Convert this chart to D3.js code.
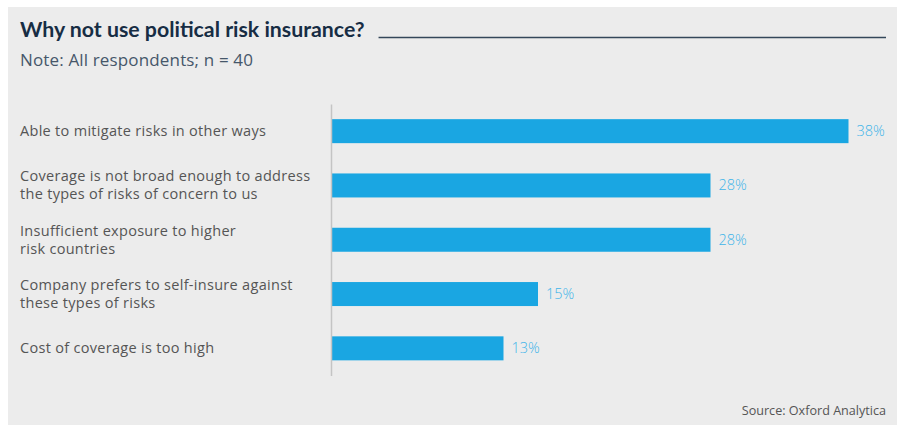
<!DOCTYPE html>
<html>
<head>
<meta charset="utf-8">
<script src="https://cdn.jsdelivr.net/npm/d3@7"></script>
<style>
  html, body { margin: 0; padding: 0; background: #ffffff; }
  svg { display: block; font-family: "Open Sans", "Noto Sans", sans-serif; }
</style>
</head>
<body>
<svg id="chart" width="904" height="425"></svg>
<script>
// Survey question and respondent count
const title = "Why not use political risk insurance?";
const note = "Note: All respondents; n = 40";
const source = "Source: Oxford Analytica";
const respondents = 40;

// Answer categories (each entry is a list of label lines)
const categories = [
  ["Able to mitigate risks in other ways"],
  ["Coverage is not broad enough to address", "the types of risks of concern to us"],
  ["Insufficient exposure to higher", "risk countries"],
  ["Company prefers to self-insure against", "these types of risks"],
  ["Cost of coverage is too high"]
];

// Number of respondents choosing each answer
const counts = [15, 11, 11, 6, 5];

// Share of respondents, in percent
const shares = counts.map(c => c / respondents * 100);
const fmt = v => Math.round(v) + "%";

const svg = d3.select("#chart");

// Panel background
svg.append("rect")
  .attr("x", 8).attr("y", 7)
  .attr("width", 889).attr("height", 418)
  .attr("fill", "#ececec");

// Heading
const titleText = svg.append("text")
  .attr("x", 20).attr("y", 37)
  .attr("font-family", "Lato, 'Open Sans', sans-serif")
  .attr("font-size", 21.3)
  .attr("font-weight", 700)
  .attr("fill", "#172d44")
  .text(title);

const tw = titleText.node().getComputedTextLength();
svg.append("line")
  .attr("x1", 20 + tw + 14).attr("x2", 886)
  .attr("y1", 37.5).attr("y2", 37.5)
  .attr("stroke", "#34475a")
  .attr("stroke-width", 1.5);

svg.append("text")
  .attr("x", 20).attr("y", 66)
  .attr("font-size", 17)
  .attr("letter-spacing", 0.15)
  .attr("fill", "#46576a")
  .text(note);

// Scales
const x = d3.scaleLinear().domain([0, 40]).range([331, 883]);
const y = d3.scaleBand()
  .domain(d3.range(categories.length))
  .range([104, 375.5])
  .paddingInner(0.558)
  .paddingOuter(0.279);

// Bars
svg.append("g").selectAll("rect")
  .data(shares)
  .join("rect")
  .attr("x", x(0))
  .attr("y", (d, i) => y(i))
  .attr("width", d => x(d) - x(0))
  .attr("height", y.bandwidth())
  .attr("fill", "#1aa6e2");

// Value labels
svg.append("g").selectAll("text")
  .data(shares)
  .join("text")
  .attr("x", d => x(d) + 8)
  .attr("y", (d, i) => y(i) + y.bandwidth() / 2 + 5)
  .attr("font-size", 14.5)
  .attr("font-weight", 300)
  .attr("fill", "#3fb4e9")
  .text(d => fmt(d));

// Category axis line
const yAxis = d3.axisLeft(y).tickSize(0).tickFormat(() => "");
const ag = svg.append("g")
  .attr("transform", `translate(${x(0)},0)`)
  .call(yAxis);
ag.select(".domain").attr("stroke", "#c4c4c4").attr("stroke-width", 1.5);

// Category labels
const lineH = 18;
svg.append("g").selectAll("text")
  .data(categories)
  .join("text")
  .attr("x", 20)
  .attr("font-size", 14.5)
  .attr("letter-spacing", 0.3)
  .attr("fill", "#555555")
  .each(function(lines, i) {
    const cy = y(i) + y.bandwidth() / 2;
    const first = cy + 5 - (lines.length - 1) * lineH / 2;
    d3.select(this).selectAll("tspan")
      .data(lines)
      .join("tspan")
      .attr("x", 20)
      .attr("y", (l, k) => first + k * lineH)
      .text(l => l);
  });

// Source note
svg.append("text")
  .attr("x", 886).attr("y", 415)
  .attr("text-anchor", "end")
  .attr("font-size", 12.6)
  .attr("fill", "#555555")
  .text(source);
</script>
</body>
</html>
